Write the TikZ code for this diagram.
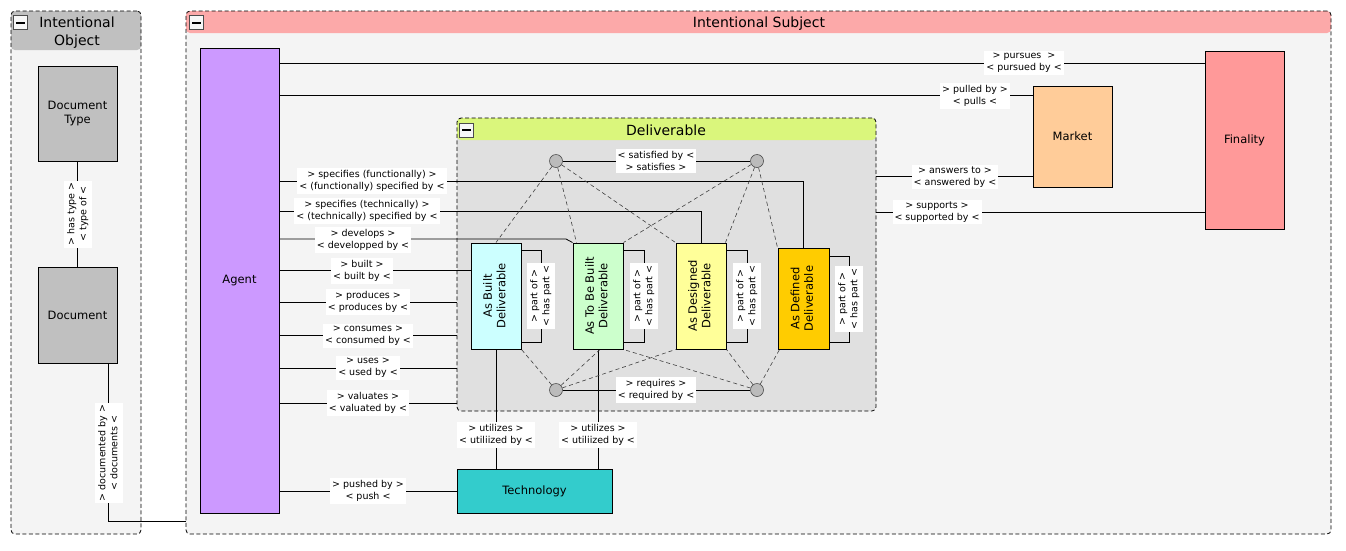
\documentclass[tikz,border=0pt]{standalone}
\usepackage{fontspec}
\setmainfont{DejaVu Sans}
\usetikzlibrary{calc}
\pgfdeclarelayer{panels}
\pgfdeclarelayer{links}
\pgfsetlayers{panels,links,main}
\definecolor{panelbg}{HTML}{F4F4F4}
\definecolor{objhdr}{HTML}{C0C0C0}
\definecolor{subjhdr}{HTML}{FCA9A9}
\definecolor{delhdr}{HTML}{DAF67C}
\definecolor{delbg}{HTML}{E0E0E0}
\definecolor{docfill}{HTML}{C0C0C0}
\definecolor{agentfill}{HTML}{CC99FF}
\definecolor{finfill}{HTML}{FF9999}
\definecolor{mktfill}{HTML}{FFCC99}
\definecolor{techfill}{HTML}{33CCCC}
\definecolor{abfill}{HTML}{CCFFFF}
\definecolor{atbfill}{HTML}{CCFFCC}
\definecolor{adsfill}{HTML}{FFFF99}
\definecolor{adffill}{HTML}{FFCC00}
\definecolor{dotfill}{HTML}{BBBBBB}
\newcommand{\vtext}[1]{\rotatebox{90}{\begin{tabular}{@{}c@{}}#1\end{tabular}}}
\begin{document}
\begin{tikzpicture}[x=1pt,y=-1pt,
  box/.style={draw, line width=1pt, inner sep=0pt, align=center, font=\fontsize{11.5}{13.5}\selectfont},
  lbl/.style={fill=white, inner sep=2pt, align=center, font=\fontsize{9.5}{12}\selectfont},
  vlbl/.style={fill=white, inner sep=2pt, font=\fontsize{9.5}{12}\selectfont},
  rel/.style={line width=0.8pt},
  dlink/.style={dash pattern=on 4pt off 3pt, line width=0.6pt, draw=black!75},
  panel/.style={draw, dash pattern=on 4pt off 2.5pt, line width=0.8pt, rounded corners=4pt, inner sep=0pt},
  ttl/.style={font=\fontsize{14}{18}\selectfont, align=center},
  minusbox/.style={draw=black!70, fill=black!3, minimum size=14pt, inner sep=0pt, line width=0.6pt},
  dot/.style={circle, draw=black!70, fill=dotfill, minimum size=13pt, inner sep=0pt, line width=0.6pt}
]
\useasboundingbox (0,0) rectangle (1346,550);

% ---------- panels ----------
\begin{pgfonlayer}{panels}
\node[panel, fill=panelbg, minimum width=130pt, minimum height=523pt,
  path picture={\fill[objhdr] (path picture bounding box.north west) rectangle ([yshift=-39pt]path picture bounding box.north east);}]
  (objpanel) at (76,272.5) {};
\node[panel, fill=panelbg, minimum width=1145pt, minimum height=523pt,
  path picture={\fill[subjhdr] (path picture bounding box.north west) rectangle ([yshift=-22pt]path picture bounding box.north east);}]
  (subjpanel) at (758.5,272.5) {};
\node[panel, fill=delbg, minimum width=419pt, minimum height=293pt,
  path picture={\fill[delhdr] (path picture bounding box.north west) rectangle ([yshift=-22pt]path picture bounding box.north east);}]
  (delpanel) at (666.5,264.5) {};
\end{pgfonlayer}

\node[ttl] (objtitle) at (77,32.5) {Intentional\\Object};
\node[ttl] (subjtitle) at (759,23.5) {Intentional Subject};
\node[ttl] (deltitle) at (666,130.5) {Deliverable};
\node[minusbox] (objmin) at (20.5,22.5) {\rule{9pt}{2pt}};
\node[minusbox] (subjmin) at (196.5,22.5) {\rule{9pt}{2pt}};
\node[minusbox] (delmin) at (466.5,130) {\rule{9pt}{2pt}};

% ---------- boxes ----------
\node[box, fill=docfill, minimum width=79pt, minimum height=95pt] (doctype) at (77.5,113.5) {Document\\Type};
\node[box, fill=docfill, minimum width=79pt, minimum height=96pt] (doc) at (77.5,315) {Document};
\node[box, fill=agentfill, minimum width=79pt, minimum height=465pt] (agent) at (239.5,280.5) {Agent};
\node[box, fill=finfill, minimum width=79pt, minimum height=178pt] (fin) at (1244.5,140) {Finality};
\node[box, fill=mktfill, minimum width=79pt, minimum height=101pt] (mkt) at (1072.5,136.5) {Market};
\node[box, fill=techfill, minimum width=155pt, minimum height=44pt] (tech) at (534.5,491) {Technology};
\node[box, fill=abfill, minimum width=50pt, minimum height=106pt] (ab) at (496,296) {\vtext{As Built\\Deliverable}};
\node[box, fill=atbfill, minimum width=50pt, minimum height=106pt] (atb) at (598,296) {\vtext{As To Be Built\\Deliverable}};
\node[box, fill=adsfill, minimum width=50pt, minimum height=106pt] (ads) at (701,296) {\vtext{As Designed\\Deliverable}};
\node[box, fill=adffill, minimum width=51pt, minimum height=101pt] (adf) at (803.5,298.5) {\vtext{As Defined\\Deliverable}};

\node[dot] (dTL) at (556,161) {};
\node[dot] (dTR) at (757,161) {};
\node[dot] (dBL) at (556,390) {};
\node[dot] (dBR) at (757,390) {};

% ---------- connectors ----------
\begin{pgfonlayer}{links}
\draw[rel] (doctype.south) -- (doc.north);
\draw[rel] (doc.south -| 108,0) -- (108,521) -- (subjpanel.west |- 0,521);

\draw[rel] (agent.east |- 0,63) -- (fin.west |- 0,63);
\draw[rel] (agent.east |- 0,95) -- (mkt.west |- 0,95);
\draw[rel] (delpanel.east |- 0,176) -- (mkt.west |- 0,176);
\draw[rel] (delpanel.east |- 0,212) -- (fin.west |- 0,212);

\draw[rel] (agent.east |- 0,181) -| (adf.north);
\draw[rel] (agent.east |- 0,211) -| (ads.north);
\draw[rel] (agent.east |- 0,239) -- (566,239) -- (atb.north west);
\draw[rel] (agent.east |- 0,270) -- (ab.west |- 0,270);
\draw[rel] (agent.east |- 0,302) -- (delpanel.west |- 0,302);
\draw[rel] (agent.east |- 0,335) -- (delpanel.west |- 0,335);
\draw[rel] (agent.east |- 0,368) -- (delpanel.west |- 0,368);
\draw[rel] (agent.east |- 0,403) -- (delpanel.west |- 0,403);
\draw[rel] (agent.east |- tech.west) -- (tech.west);

\draw[rel] (ab.south) -- (ab.south |- tech.north);
\draw[rel] (atb.south) -- (atb.south |- tech.north);

\draw[rel] (ab.east |- 0,250) -- (541,250) -- (541,342) -- (ab.east |- 0,342);
\draw[rel] (atb.east |- 0,250) -- (644,250) -- (644,342) -- (atb.east |- 0,342);
\draw[rel] (ads.east |- 0,250) -- (747,250) -- (747,342) -- (ads.east |- 0,342);
\draw[rel] (adf.east |- 0,256) -- (849,256) -- (849,342) -- (adf.east |- 0,342);

\draw[rel] (dTL) -- (dTR);
\draw[rel] (dBL) -- (dBR);

\draw[dlink] (dTL) -- (ab.north);
\draw[dlink] (dTL) -- ([xshift=4pt]atb.north west);
\draw[dlink] (dTL) -- (ads.north west);
\draw[dlink] (dTR) -- (atb.north east);
\draw[dlink] (dTR) -- ([xshift=-1pt]ads.north east);
\draw[dlink] (dTR) -- (adf.north west);
\draw[dlink] (dBL) -- (ab.south east);
\draw[dlink] (dBL) -- ([xshift=2pt]atb.south);
\draw[dlink] (dBL) -- (ads.south west);
\draw[dlink] (dBR) -- (atb.south east);
\draw[dlink] (dBR) -- (ads.south east);
\draw[dlink] (dBR) -- ([xshift=2pt]adf.south west);
\end{pgfonlayer}

% ---------- labels ----------
\node[vlbl] (lhastype) at (78,214) {\vtext{> has type >\\< type of <}};
\node[vlbl] (ldoc) at (109,453) {\vtext{> documented by >\\< documents <}};

\node[lbl] (lpursue) at (1024,63) {> pursues~ >\\< pursued by <};
\node[lbl] (lpull) at (975,96) {> pulled by >\\< pulls <};
\node[lbl] (lanswer) at (955,177) {> answers to >\\< answered by <};
\node[lbl] (lsupport) at (937,212) {> supports >\\< supported by <};

\node[lbl] (lspecf) at (372,181) {> specifies (functionally) >\\< (functionally) specified by <};
\node[lbl] (lspect) at (367,211) {> specifies (technically) >\\< (technically) specified by <};
\node[lbl] (ldevelop) at (363,240) {> develops >\\< developped by <};
\node[lbl] (lbuilt) at (362,271) {> built >\\< built by <};
\node[lbl] (lproduce) at (368,302) {> produces >\\< produces by <};
\node[lbl] (lconsume) at (368,336) {> consumes >\\< consumed by <};
\node[lbl] (luse) at (368,368) {> uses >\\< used by <};
\node[lbl] (lvaluate) at (368,403) {> valuates >\\< valuated by <};
\node[lbl] (lpush) at (368,491) {> pushed by >\\< push <};

\node[lbl] (lutil1) at (496,435) {> utilizes >\\< utiliized by <};
\node[lbl] (lutil2) at (598,435) {> utilizes >\\< utiliized by <};

\node[lbl] (lsatisfy) at (656,161) {< satisfied by <\\> satisfies >};
\node[lbl] (lrequire) at (656,390) {> requires >\\< required by <};

\node[vlbl] (lpart1) at (541,296) {\vtext{> part of >\\< has part <}};
\node[vlbl] (lpart2) at (644,296) {\vtext{> part of >\\< has part <}};
\node[vlbl] (lpart3) at (747,296) {\vtext{> part of >\\< has part <}};
\node[vlbl] (lpart4) at (849,299) {\vtext{> part of >\\< has part <}};
\end{tikzpicture}
\end{document}
